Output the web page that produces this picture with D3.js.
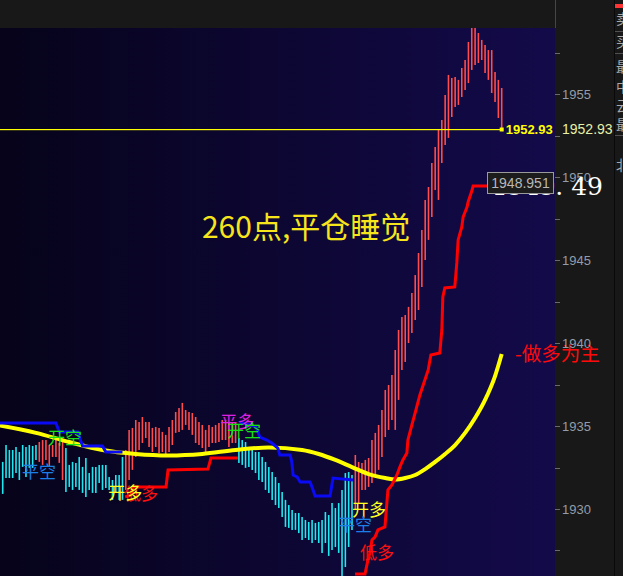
<!DOCTYPE html>
<html>
<head>
<meta charset="utf-8">
<script src="https://cdn.jsdelivr.net/npm/d3@7"></script>
<style>
  body { margin: 0; background: #181818; overflow: hidden; }
  svg { display: block; }
  .cn { font-family: 'Noto Sans CJK SC', sans-serif; }
  .axis-label { font-family: 'Liberation Sans', Arial, sans-serif; font-size: 13px; fill: #929daa; }
</style>
</head>
<body>
<div id="chart"></div>
<script>
// bar highs / lows, one per bar (bar 0 at the left edge)
var highs = [1932.84, 1933.86, 1933.56, 1933.56, 1933.74, 1933.44, 1933.86, 1933.74, 1933.86, 1933.80,
  1933.86, 1934.04, 1934.16, 1934.16, 1933.86, 1933.86, 1934.34, 1933.98, 1934.16, 1933.68,
  1932.66, 1932.84, 1932.78, 1933.14, 1932.54, 1933.08, 1932.17, 1932.54, 1932.54, 1932.66,
  1932.66, 1932.66, 1931.93, 1931.75, 1932.05, 1932.05, 1933.14, 1933.56, 1934.77, 1934.89,
  1935.37, 1935.25, 1935.55, 1935.25, 1935.25, 1934.89, 1934.95, 1934.89, 1934.65, 1934.47,
  1934.95, 1935.37, 1935.85, 1936.09, 1936.40, 1935.97, 1935.85, 1935.79, 1935.55, 1935.25,
  1935.07, 1934.77, 1935.07, 1934.95, 1935.07, 1935.19, 1935.37, 1935.37, 1935.25, 1935.19,
  1935.19, 1934.28, 1934.16, 1934.04, 1933.68, 1933.68, 1933.44, 1933.44, 1933.14, 1932.84,
  1932.54, 1932.23, 1931.93, 1931.57, 1931.03, 1930.55, 1930.24, 1929.94, 1929.76, 1929.76,
  1929.52, 1929.34, 1929.22, 1929.34, 1929.16, 1929.22, 1929.34, 1929.82, 1929.64, 1930.36,
  1930.06, 1930.36, 1931.15, 1932.17, 1932.23, 1932.05, 1933.26, 1932.84, 1932.78, 1932.96,
  1933.08, 1934.16, 1934.59, 1935.07, 1935.97, 1937.18, 1937.48, 1938.08, 1939.59, 1940.80,
  1941.58, 1941.70, 1942.19, 1943.03, 1944.11, 1945.44, 1946.83, 1948.64, 1949.42, 1950.87,
  1951.83, 1952.86, 1953.46, 1954.97, 1956.18, 1956.00, 1956.06, 1955.88, 1956.60, 1957.08,
  1958.17, 1959.01, 1959.01, 1958.71, 1958.29, 1957.99, 1957.68, 1957.68, 1956.36, 1955.88,
  1955.39]

var lows = [1930.91, 1931.87, 1931.87, 1931.87, 1932.17, 1931.75, 1932.54, 1931.93, 1932.48, 1932.48,
  1932.96, 1932.84, 1932.66, 1932.96, 1932.54, 1933.14, 1933.14, 1932.78, 1931.75, 1931.03,
  1931.33, 1931.15, 1931.33, 1931.15, 1930.97, 1930.73, 1931.15, 1930.97, 1930.97, 1931.57,
  1931.15, 1931.27, 1931.15, 1930.55, 1930.97, 1930.55, 1930.55, 1931.15, 1931.75, 1932.36,
  1933.14, 1933.56, 1933.98, 1934.28, 1933.74, 1933.44, 1933.74, 1933.38, 1933.44, 1933.26,
  1933.44, 1933.86, 1934.59, 1934.65, 1934.77, 1935.07, 1934.77, 1934.47, 1933.98, 1933.86,
  1933.68, 1933.44, 1933.74, 1933.98, 1933.98, 1934.04, 1934.16, 1934.16, 1933.74, 1933.98,
  1933.98, 1932.78, 1932.66, 1932.48, 1932.54, 1932.36, 1932.17, 1931.75, 1931.63, 1931.15,
  1930.97, 1930.55, 1930.24, 1930.06, 1929.52, 1928.92, 1928.86, 1928.74, 1928.74, 1928.55,
  1928.13, 1928.25, 1928.13, 1927.95, 1928.13, 1927.95, 1927.35, 1927.95, 1927.17, 1927.53,
  1927.71, 1927.35, 1925.80, 1926.50, 1927.71, 1928.74, 1929.94, 1930.36, 1931.15, 1931.15,
  1931.33, 1931.57, 1931.93, 1932.36, 1933.14, 1934.34, 1934.77, 1935.37, 1934.77, 1936.58,
  1938.39, 1938.87, 1940.01, 1940.62, 1941.40, 1942.00, 1943.39, 1945.02, 1946.23, 1947.61,
  1949.24, 1948.64, 1950.87, 1951.95, 1952.38, 1953.64, 1954.25, 1954.37, 1954.85, 1955.27,
  1955.69, 1956.48, 1956.78, 1956.90, 1957.08, 1956.30, 1955.88, 1955.09, 1954.55, 1953.58,
  1952.98]

// colour runs: [first bar, last bar, 1 up (red) / -1 down (cyan)]
var trendRuns = [[0, 10, -1], [11, 18, 1], [19, 36, -1], [37, 70, 1], [71, 105, -1], [106, 150, 1]]

// moving average [bar, price]
var maLine = [[-1, 1935.04], [10, 1934.59], [20, 1934.04], [30, 1933.56], [40, 1933.32],
  [50, 1933.23], [60, 1933.32], [70, 1933.56], [80, 1933.71], [90, 1933.56], [95, 1933.32],
  [100, 1932.96], [105, 1932.53], [110, 1932.11], [115, 1931.87], [118, 1931.78], [121, 1931.87],
  [124, 1932.05], [127, 1932.41], [130, 1932.84], [133, 1933.32], [136, 1933.86], [139, 1934.59],
  [142, 1935.49], [145, 1936.58], [148, 1938.02], [150, 1939.35]]

// blue stop line, two pieces
var shortStopA = [[-1, 1935.19], [16, 1935.19], [17, 1934.65], [22.5, 1934.65], [24, 1933.80],
  [30, 1933.80], [31, 1933.44], [36, 1933.44]]
var shortStopB = [[71.3, 1935.25], [76.1, 1934.95], [77.3, 1934.34], [79.4, 1934.16], [80.9, 1933.98],
  [82.7, 1933.68], [83.3, 1933.26], [86.4, 1933.26], [86.9, 1932.84], [87.3, 1932.05], [88.5, 1931.93],
  [89.4, 1931.63], [92.4, 1931.63], [93.3, 1931.15], [93.9, 1930.79], [98.4, 1930.79], [99.3, 1931.87],
  [105.3, 1931.75]]

// red stop line, two pieces
var longStopA = [[36.8, 1930.73], [38.6, 1930.85], [39.2, 1931.33], [49.1, 1931.33], [49.7, 1932.35],
  [61.7, 1932.41], [62.6, 1933.08], [70.7, 1933.08]]
var longStopB = [[105.9, 1926.08], [108.9, 1926.08], [109.8, 1926.93], [110.4, 1927.35], [111.0, 1928.13],
  [111.9, 1928.31], [112.8, 1928.74], [114.9, 1928.92], [115.8, 1931.15], [117.0, 1931.45],
  [118.5, 1932.05], [119.4, 1932.54], [120.3, 1932.96], [121.5, 1933.38], [121.8, 1934.16],
  [123.0, 1935.07], [124.2, 1935.97], [125.4, 1936.88], [126.9, 1937.78], [127.9, 1938.39],
  [128.7, 1939.29], [131.4, 1939.41], [132.0, 1940.80], [132.3, 1942.79], [132.9, 1943.33],
  [135.9, 1943.39], [136.5, 1944.84], [136.9, 1946.23], [138.0, 1947.01], [138.4, 1947.61],
  [139.6, 1948.22], [139.9, 1948.52], [141.1, 1949.24], [141.4, 1949.48], [150, 1949.48]]

// notes written on the chart: text, bar, price, colour
var notes = [
  { text: '平空', bar: 5.8, price: 1931.87, color: '#1c7fe8' },
  { text: '开空', bar: 13.6, price: 1933.92, color: '#18e018' },
  { text: '低多', bar: 36.5, price: 1930.55, color: '#ff1010' },
  { text: '开多', bar: 31.7, price: 1930.60, color: '#ffff20' },
  { text: '平多', bar: 65.4, price: 1934.89, color: '#e020e0' },
  { text: '开空', bar: 67.4, price: 1934.34, color: '#18e018' },
  { text: '开多', bar: 105, price: 1929.58, color: '#ffff20' },
  { text: '平空', bar: 100.8, price: 1928.68, color: '#1c7fe8' },
  { text: '低多', bar: 107.4, price: 1927.0, color: '#ff1010' }
]
var headline = { text: '260点,平仓睡觉', bar: 59.9, price: 1946.35 }
var sideNote = { text: '-做多为主', bar: 154, price: 1938.9 }

var tickValues = [1927.5, 1930, 1932.5, 1935, 1937.5, 1940, 1942.5, 1945, 1947.5, 1950, 1952.5, 1955, 1957.5]
var lastPrice = 1952.93
var boxText = '1948.951'
var bigQuote = '1949. 49'

var W = 623, H = 576
var plot = { left: 0, top: 28, right: 555, bottom: 576 }

var svg = d3.select('#chart').append('svg').attr('width', W).attr('height', H)

var defs = svg.append('defs')
var grad = defs.append('linearGradient').attr('id', 'bg').attr('x1', 0).attr('x2', 1).attr('y1', 0).attr('y2', 0)
grad.append('stop').attr('offset', '0%').attr('stop-color', '#06031a')
grad.append('stop').attr('offset', '100%').attr('stop-color', '#130a4a')
defs.append('clipPath').attr('id', 'clip').append('rect')
  .attr('x', plot.left).attr('y', plot.top)
  .attr('width', plot.right - plot.left).attr('height', plot.bottom - plot.top)

svg.append('rect').attr('width', W).attr('height', H).attr('fill', '#181818')
svg.append('rect')
  .attr('x', plot.left).attr('y', plot.top)
  .attr('width', plot.right - plot.left).attr('height', plot.bottom - plot.top)
  .attr('fill', 'url(#bg)')

var x = d3.scaleLinear().domain([0, 150]).range([2.7, 501.7])
var y = d3.scaleLinear().domain([1925.96, 1959.01]).range([576, 28])

function trendOf (i) {
  for (var k = 0; k < trendRuns.length; k++) {
    if (i >= trendRuns[k][0] && i <= trendRuns[k][1]) return trendRuns[k][2]
  }
  return 1
}

var g = svg.append('g').attr('clip-path', 'url(#clip)')

// bars
g.append('g').selectAll('line')
  .data(highs)
  .enter()
  .append('line')
  .attr('x1', function (d, i) { return x(i) })
  .attr('x2', function (d, i) { return x(i) })
  .attr('y1', function (d) { return y(d) })
  .attr('y2', function (d, i) { return y(lows[i]) })
  .attr('stroke', function (d, i) { return trendOf(i) > 0 ? '#ff4c4c' : '#1ee8f0' })
  .attr('stroke-width', 1.6)

// last price line, one pixel row of yellow
var priceRow = Math.round(y(lastPrice))
g.append('rect')
  .attr('x', 0).attr('y', priceRow)
  .attr('width', x(150)).attr('height', 1.2)
  .attr('fill', '#ffff00')
g.append('rect')
  .attr('x', x(150) - 2).attr('y', priceRow - 1.5)
  .attr('width', 4).attr('height', 4).attr('fill', '#ffff00')

var line = d3.line()
  .x(function (d) { return x(d[0]) })
  .y(function (d) { return y(d[1]) })

g.append('path').datum(maLine)
  .attr('d', line.curve(d3.curveMonotoneX))
  .attr('fill', 'none').attr('stroke', '#ffff00').attr('stroke-width', 4)

line.curve(d3.curveLinear)
;[shortStopA, shortStopB].forEach(function (seg) {
  g.append('path').datum(seg).attr('d', line)
    .attr('fill', 'none').attr('stroke', '#0a0af5').attr('stroke-width', 3)
})
;[longStopA, longStopB].forEach(function (seg) {
  g.append('path').datum(seg).attr('d', line)
    .attr('fill', 'none').attr('stroke', '#ff0000').attr('stroke-width', 3)
})

// notes
g.selectAll('.note')
  .data(notes)
  .enter()
  .append('text')
  .attr('class', 'cn note')
  .attr('x', function (d) { return x(d.bar) })
  .attr('y', function (d) { return y(d.price) })
  .attr('fill', function (d) { return d.color })
  .style('font-size', '17px')
  .text(function (d) { return d.text })

g.append('text')
  .attr('class', 'cn')
  .attr('x', x(headline.bar)).attr('y', y(headline.price))
  .attr('fill', '#f7e51c')
  .style('font-size', '30px')
  .text(headline.text)

g.append('text')
  .attr('x', x(150) + 4).attr('y', y(lastPrice) + 5)
  .attr('fill', '#ffff00')
  .style('font-family', "'Liberation Sans', Arial, sans-serif")
  .style('font-size', '13px').style('font-weight', 'bold')
  .text(lastPrice.toFixed(2))

// side note spills past the plot edge
svg.append('text')
  .attr('class', 'cn')
  .attr('x', x(sideNote.bar)).attr('y', y(sideNote.price))
  .attr('fill', '#ff0a0a')
  .style('font-size', '19.5px')
  .text(sideNote.text)

// right axis
var axisG = svg.append('g')
axisG.selectAll('.tick')
  .data(tickValues)
  .enter()
  .append('line')
  .attr('x1', plot.right).attr('x2', plot.right + 5)
  .attr('y1', function (d) { return Math.round(y(d)) + 0.5 })
  .attr('y2', function (d) { return Math.round(y(d)) + 0.5 })
  .attr('stroke', '#6a6a6a')
axisG.selectAll('.axis-label')
  .data(tickValues.filter(function (d) { return d % 5 === 0 }))
  .enter()
  .append('text')
  .attr('class', 'axis-label')
  .attr('x', plot.right + 7)
  .attr('y', function (d) { return y(d) + 5 })
  .text(function (d) { return d })

svg.append('text')
  .attr('x', plot.right + 7).attr('y', y(lastPrice) + 5)
  .attr('fill', '#e6f0a6')
  .style('font-family', "'Liberation Sans', Arial, sans-serif")
  .style('font-size', '14px')
  .text(lastPrice.toFixed(2))

// big quote and the value box over it
svg.append('text')
  .attr('x', 603).attr('y', 195)
  .attr('text-anchor', 'end')
  .attr('fill', '#ffffff')
  .style('font-family', "'DejaVu Serif', 'Liberation Serif', serif")
  .style('font-size', '25px')
  .text(bigQuote)
svg.append('rect')
  .attr('x', 487.5).attr('y', 172.5).attr('width', 66).attr('height', 21)
  .attr('fill', '#1c1c1c').attr('stroke', '#9a9a9a')
svg.append('text')
  .attr('x', 520.5).attr('y', 188)
  .attr('text-anchor', 'middle')
  .attr('fill', '#b8b8b8')
  .style('font-family', "'Liberation Sans', Arial, sans-serif")
  .style('font-size', '14px')
  .text(boxText)

// top band divider and side panel
svg.append('line').attr('x1', 555.5).attr('x2', 555.5).attr('y1', 0).attr('y2', 28).attr('stroke', '#454545')
svg.append('line').attr('x1', 614.5).attr('x2', 614.5).attr('y1', 0).attr('y2', H).attr('stroke', '#090909')
svg.append('rect').attr('x', 615).attr('y', 4).attr('width', 8).attr('height', 4).attr('fill', '#ff3535')
;[31.5, 53.5, 135.5].forEach(function (yy) {
  svg.append('line').attr('x1', 615).attr('x2', W).attr('y1', yy).attr('y2', yy).attr('stroke', '#505050')
})
var sideGlyphs = [['卖', 24], ['买', 47], ['最', 72], ['中', 92], ['云', 111], ['最', 130], ['北', 170]]
svg.selectAll('.glyph')
  .data(sideGlyphs)
  .enter()
  .append('text')
  .attr('class', 'cn glyph')
  .attr('x', 616)
  .attr('y', function (d) { return d[1] })
  .attr('fill', '#a8a8a8')
  .style('font-size', '14px')
  .text(function (d) { return d[0] })
</script>
</body>
</html>
